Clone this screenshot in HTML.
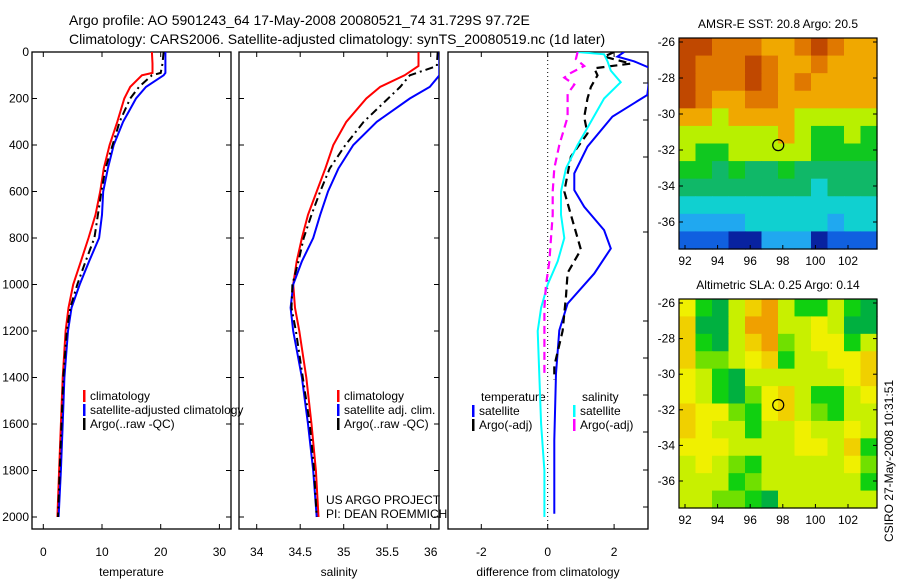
<!DOCTYPE html>
<html><head><meta charset="utf-8"><style>
body{margin:0;background:#fff;}
svg{display:block;font-family:"Liberation Sans",sans-serif;}
</style></head><body>
<svg id="fig" width="900" height="580" viewBox="0 0 900 580">
<rect width="900" height="580" fill="#fff"/>
<text x="69" y="25" font-size="14">Argo profile: AO 5901243_64 17-May-2008 20080521_74 31.729S 97.72E</text>
<text x="69" y="44" font-size="14">Climatology: CARS2006. Satellite-adjusted climatology: synTS_20080519.nc (1d later)</text>
<g id="g"></g>
</svg>
<script>
const depthT=[0,50,90,100,150,200,300,400,500,600,700,800,900,1000,1100,1200,1400,1600,1800,2000];
const tClim=[18.5,18.6,18.6,16.8,14.8,13.8,12.6,11.3,10.3,9.7,8.9,7.7,6.4,5.1,4.3,3.8,3.3,3.0,2.7,2.4];
const tSat=[20.8,20.8,20.8,20.5,17.5,15.8,13.6,12.0,11.0,10.2,10.0,9.5,7.8,6.2,4.8,4.2,3.6,3.3,3.0,2.6];
const tArgo=[20.5,20.3,20.0,18.5,16.3,14.8,13.0,11.8,10.6,9.9,9.3,8.7,7.2,5.8,4.6,4.0,3.4,3.1,2.8,2.5];
const depthS=[0,60,100,150,200,300,400,500,600,700,800,900,1000,1100,1200,1400,1600,1800,2000];
const sClim=[35.86,35.86,35.70,35.42,35.26,35.03,34.88,34.79,34.69,34.59,34.52,34.46,34.42,34.44,34.49,34.57,34.63,34.68,34.71];
const sSat=[36.1,36.1,36.1,35.99,35.76,35.38,35.11,34.94,34.82,34.73,34.65,34.52,34.42,34.39,34.42,34.52,34.59,34.65,34.69];
const sArgo=[36.08,36.07,35.76,35.65,35.51,35.23,35.02,34.84,34.73,34.63,34.54,34.48,34.41,34.40,34.45,34.53,34.61,34.66,34.69];
const dTSatDepth=[0,20,40,70,185,278,407,522,594,666,766,845,953,1082,1197,1383,1670,1986];
const dTSat=[2.3,2.1,2.6,3.1,3.0,1.95,1.2,0.8,0.8,1.1,1.7,1.9,1.4,0.6,0.35,0.25,0.2,0.2];
const dTArgoDepth=[0,20,50,70,100,150,200,280,350,450,600,700,850,950,1050,1200,1350,1410];
const dTArgo=[2.0,1.7,2.5,1.4,1.5,1.3,1.2,1.1,1.2,0.7,0.5,0.7,1.0,0.6,0.55,0.45,0.2,0.2];
const dSSatDepth=[0,10,40,80,130,200,300,400,500,600,700,800,900,1000,1100,1200,1400,1600,1800,2000];
const dSSat=[0.9,1.7,1.8,1.9,2.2,1.7,1.3,0.9,0.55,0.4,0.4,0.5,0.3,0,-0.2,-0.3,-0.25,-0.2,-0.1,-0.1];
const dSArgoDepth=[0,30,60,90,110,140,180,280,400,500,600,700,800,900,1000,1100,1200,1380];
const dSArgo=[0.9,0.85,1.1,0.7,0.5,0.8,0.6,0.6,0.35,0.2,0.15,0.15,0.1,0.05,-0.05,-0.1,-0.1,-0.1];
const depthTicks=[0,200,400,600,800,1000,1200,1400,1600,1800,2000];
const tTicks=[0,10,20,30];
const sTicks=[34,34.5,35,35.5,36];
const dTicks=[-2,0,2];
const latTicks=[26,28,30,32,34,36];
const lonTicks=[92,94,96,98,100,102];
const sstGrid=[
[9,9,8,8,8,7,7,8,9,8,7,7],[9,8,8,8,9,8,7,7,8,7,7,7],[9,8,8,8,9,8,7,8,7,7,7,7],
[9,8,7,7,8,8,7,7,7,7,7,7],[7,7,6,7,7,7,7,6,6,6,6,6],[6,6,6,6,6,6,7,6,5,5,6,5],
[6,5,5,6,6,6,6,6,5,5,5,5],[5,5,4,5,4,4,5,4,4,4,4,4],[4,4,4,4,4,4,4,4,3,4,4,4],
[3,3,3,3,3,3,3,3,3,3,3,3],[2,2,2,2,3,3,3,3,3,2,3,3],[1,1,1,0,0,2,2,2,0,1,1,1]];
const slaGrid=[
[4,1,0,3,5,6,3,1,1,3,1,0],[5,0,0,3,6,6,3,3,4,3,0,0],[5,1,0,3,5,6,2,3,4,4,1,3],
[5,2,2,3,4,5,1,3,3,4,4,5],[4,3,1,0,3,3,3,3,3,3,4,5],[4,3,1,0,2,4,5,3,1,1,3,4],
[5,4,4,2,1,4,5,3,2,1,3,3],[5,4,3,3,1,3,3,4,3,3,4,3],[4,4,4,3,3,3,3,4,4,3,5,1],
[3,4,3,2,1,3,3,3,3,3,4,2],[3,3,3,1,2,3,3,3,3,3,3,1],[3,3,2,2,1,0,3,3,3,3,3,3]];
const sstColors=["#0822a0","#1060e0","#20a8f0","#10d0d0","#10b868","#10c820","#b8f000","#f0a800","#e07800","#c04800"];
const slaColors=["#00b040","#10d010","#70e000","#c8f000","#f0f000","#f0d000","#f0a000"];
const argoLon=97.72, argoLat=31.73;

const NS="http://www.w3.org/2000/svg";
const G=document.getElementById('g');
function el(t,a,p){const e=document.createElementNS(NS,t);for(const k in a)e.setAttribute(k,a[k]);(p||G).appendChild(e);return e;}
function txt(x,y,s,size,anchor,p){const e=el('text',{x:x,y:y,'font-size':size||12,'text-anchor':anchor||'start'},p);e.textContent=s;return e;}
const yD=d=>52+d*0.2325;
function panel(x0,x1,xs,ticks,fmt,title,name,leftLabels,rightTicksOnly){
  const g=el('g',{});
  
  
  el('rect',{x:x0,y:52,width:x1-x0,height:477,fill:'none',stroke:'#000','stroke-width':1.3},g);
  ticks.forEach(v=>{const x=xs(v);el('line',{x1:x,x2:x,y1:529,y2:524,stroke:'#000'},g);el('line',{x1:x,x2:x,y1:52,y2:57,stroke:'#000'},g);
    const t=txt(x,556,fmt(v),12,'middle',g);});
  const tt=txt((x0+x1)/2,576,title,12,'middle',g);
  
  
  if(!rightTicksOnly) depthTicks.forEach(d=>{const y=yD(d);el('line',{x1:x0,x2:x0+5,y1:y,y2:y,stroke:'#000'},g);el('line',{x1:x1,x2:x1-5,y1:y,y2:y,stroke:'#000'},g);
    if(leftLabels){const t=txt(29,y+4,String(d),12,'end',g);}});
  return g;
}
function line(g,xs,vals,depths,color,w,dash,name){
  const pts=vals.map((v,i)=>xs(v).toFixed(1)+','+yD(depths[i]).toFixed(1)).join(' ');
  const p=el('polyline',{points:pts,fill:'none',stroke:color,'stroke-width':w,'stroke-dasharray':dash||'none'},g);
  
  
}
function clipG(x0,x1,id){const c=el('clipPath',{id:id});el('rect',{x:x0,y:52,width:x1-x0,height:477},c);return el('g',{'clip-path':'url(#'+id+')'});}
function legend(g,x,y,items){items.forEach((it,i)=>{el('rect',{x:x,y:y+i*14-10,width:2.5,height:12,fill:it[1]},g);const t=txt(x+7,y+i*14,it[0],12,'start',g);});}

const xT=v=>43.3+v*5.87;
const p1=panel(32,231,xT,tTicks,String,'temperature','temperature-panel',true);
const c1=clipG(32,231,'c1');
line(c1,xT,tClim,depthT,'#f00',2,null,'temp-climatology-line');
line(c1,xT,tSat,depthT,'#00f',2,null,'temp-satellite-line');
line(c1,xT,tArgo,depthT,'#000',2,'8,4,2,4','temp-argo-line');
legend(p1,83,400,[['climatology','#f00'],['satellite-adjusted climatology','#00f'],['Argo(..raw -QC)','#000']]);

const xS=v=>256.7+(v-34)*87;
const p2=panel(239,439,xS,sTicks,String,'salinity','salinity-panel',false);
const c2=clipG(239,439,'c2');
line(c2,xS,sClim,depthS,'#f00',2,null,'sal-climatology-line');
line(c2,xS,sSat,depthS,'#00f',2,null,'sal-satellite-line');
line(c2,xS,sArgo,depthS,'#000',2,'8,4,2,4','sal-argo-line');
legend(p2,337,400,[['climatology','#f00'],['satellite adj. clim.','#00f'],['Argo(..raw -QC)','#000']]);
const u1=txt(326,504,'US ARGO PROJECT',12,'start',p2);


const u2=txt(326,518,'PI: DEAN ROEMMICH',12,'start',p2);



const xDf=v=>547.7+v*33.2;
const p3=panel(448,648,xDf,dTicks,v=>v===0?'0':String(v),'difference from climatology','difference-panel',false,true);
[83,120,157,232,321,358,395,432,470,507].forEach(y=>el('line',{x1:648,x2:643,y1:y,y2:y,stroke:'#000'},p3));
el('line',{x1:xDf(0),x2:xDf(0),y1:52,y2:529,stroke:'#000','stroke-dasharray':'1,3'},p3);
const c3=clipG(448,648,'c3');
line(c3,xDf,dTSat,dTSatDepth,'#00f',2,null,'dtemp-satellite-line');
line(c3,xDf,dTArgo,dTArgoDepth,'#000',2.2,'8,5','dtemp-argo-line');
line(c3,xDf,dSSat,dSSatDepth,'#0ff',2,null,'dsal-satellite-line');
line(c3,xDf,dSArgo,dSArgoDepth,'#f0f',2.2,'8,5','dsal-argo-line');
txt(481,401,'temperature',12,'start',p3);
legend(p3,472,415,[['satellite','#00f'],['Argo(-adj)','#000']]);
txt(582,401,'salinity',12,'start',p3);
legend(p3,573,415,[['satellite','#0ff'],['Argo(-adj)','#f0f']]);

function map(top,bot,grid,colors,title,name){
  const g=el('g',{});
  
  
  const x0=679,x1=877;
  const lonX=v=>685+(v-92)*16.3;
  const latY=v=>(top+4)+(v-26)*(bot-top-31)/10;
  const rows=grid.length,cols=grid[0].length;
  const cw=(x1-x0)/cols,ch=(bot-top)/rows;
  grid.forEach((r,i)=>r.forEach((v,j)=>{const c=el('rect',{x:x0+j*cw,y:top+i*ch,width:cw+0.6,height:ch+0.6,fill:colors[v]},g);
    
    }));
  el('rect',{x:x0,y:top,width:x1-x0,height:bot-top,fill:'none',stroke:'#000','stroke-width':1.2},g);
  latTicks.forEach(v=>{const y=latY(v);el('line',{x1:x1,x2:x1-4,y1:y,y2:y,stroke:'#000'},g);el('line',{x1:x0,x2:x0+4,y1:y,y2:y,stroke:'#000'},g);txt(675,y+4,'-'+v,12,'end',g);});
  lonTicks.forEach(v=>{const x=lonX(v);el('line',{x1:x,x2:x,y1:bot,y2:bot-4,stroke:'#000'},g);txt(x,bot+16,String(v),12,'middle',g);});
  const t=txt(778,top-10,title,12,'middle',g);
  
  
  const c=el('circle',{cx:lonX(argoLon),cy:latY(argoLat),r:5.5,fill:'none',stroke:'#000','stroke-width':1.2},g);
  
  
}
map(38,249,sstGrid,sstColors,'AMSR-E SST: 20.8 Argo: 20.5','sst-map');
map(299,508,slaGrid,slaColors,'Altimetric SLA: 0.25 Argo: 0.14','sla-map');
const cs=txt(0,0,'CSIRO 27-May-2008 10:31:51',12,'middle');
cs.setAttribute('transform','translate(893,461) rotate(-90)');


</script>
</body></html>
